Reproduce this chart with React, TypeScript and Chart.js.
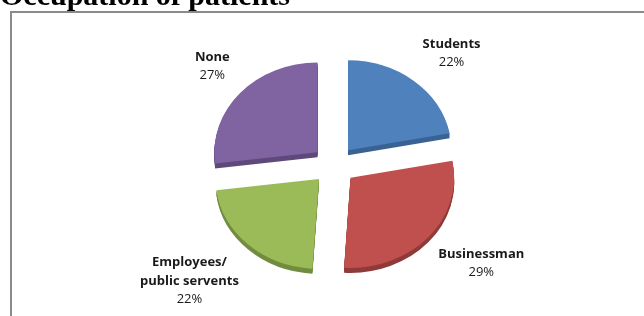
import React, { useEffect, useRef } from "react";
import { Chart, registerables } from "chart.js";

Chart.register(...registerables);

// ---- data ----
const categories = ["Students", "Businessman", "Employees/ public servents", "None"];
const labelLines = [["Students"], ["Businessman"], ["Employees/", "public servents"], ["None"]];
const values = [22, 29, 22, 27];
const percentLabels = ["22%", "29%", "22%", "27%"];
const colors = ["#4F81BD", "#C0504D", "#9BBB59", "#8064A2"];
const sideColors = ["#3A6393", "#8F3B39", "#728C40", "#5E4A7A"];
const chartTitle = "Occupation of patients";

const SQUASH = 0.87;
const DEPTH = 5;
const LABEL_GAP = 14;
const LINE_H = 18.5;

function squash(ctx: CanvasRenderingContext2D, cx: number, cy: number) {
  ctx.translate(cx, cy);
  ctx.scale(1, SQUASH);
  ctx.translate(-cx, -cy);
}

const framePlugin = {
  id: "frame",
  beforeDraw(chart: any) {
    const ctx = chart.ctx as CanvasRenderingContext2D;
    ctx.save();
    ctx.fillStyle = "#ffffff";
    ctx.fillRect(0, 0, chart.width, chart.height);
    ctx.fillStyle = "#8a8a8a";
    ctx.fillRect(10, 11, 2, chart.height);
    ctx.fillRect(10, 11, chart.width, 2);
    ctx.fillStyle = "#000000";
    ctx.font = "bold 30px 'Liberation Serif', 'Times New Roman', serif";
    ctx.textAlign = "left";
    ctx.textBaseline = "alphabetic";
    ctx.fillText(chartTitle, 0, 5);
    ctx.restore();
  },
};

const pie3dPlugin = {
  id: "pie3d",
  beforeDatasetsDraw(chart: any) {
    const ctx = chart.ctx as CanvasRenderingContext2D;
    const meta = chart.getDatasetMeta(0);
    const cx = meta.data[0].x;
    const cy = meta.data[0].y;
    for (let d = DEPTH; d >= 1; d--) {
      meta.data.forEach((arc: any, i: number) => {
        ctx.save();
        ctx.translate(0, d);
        squash(ctx, cx, cy);
        const saved = arc.options;
        arc.options = Object.assign({}, saved, { backgroundColor: sideColors[i] });
        arc.draw(ctx);
        arc.options = saved;
        ctx.restore();
      });
    }
    ctx.save();
    squash(ctx, cx, cy);
  },
  afterDatasetsDraw(chart: any) {
    const ctx = chart.ctx as CanvasRenderingContext2D;
    ctx.restore();
    const meta = chart.getDatasetMeta(0);
    meta.data.forEach((arc: any, i: number) => {
      const h = (arc.startAngle + arc.endAngle) / 2;
      const eff = (arc.options.offset || 0) / 4;
      const R = arc.outerRadius + eff + LABEL_GAP;
      const ax = arc.x + Math.cos(h) * R;
      const ay = arc.y + Math.sin(h) * R * SQUASH;
      const lines = [...labelLines[i], percentLabels[i]];
      const fonts = lines.map((_, k) =>
        k < lines.length - 1 ? "bold 13px 'Open Sans', sans-serif" : "13px 'Open Sans', sans-serif"
      );
      let w = 0;
      lines.forEach((t, k) => {
        ctx.font = fonts[k];
        w = Math.max(w, ctx.measureText(t).width);
      });
      const hgt = lines.length * LINE_H;
      const left = Math.cos(h) >= 0 ? ax : ax - w;
      const top = Math.sin(h) < 0 ? ay - hgt : ay;
      ctx.save();
      ctx.fillStyle = "#1a1a1a";
      ctx.textAlign = "center";
      ctx.textBaseline = "middle";
      lines.forEach((t, k) => {
        ctx.font = fonts[k];
        ctx.fillText(t, left + w / 2, top + LINE_H / 2 + k * LINE_H);
      });
      ctx.restore();
    });
  },
};

export default function App() {
  const ref = useRef<HTMLCanvasElement | null>(null);
  useEffect(() => {
    if (!ref.current) return;
    const chart = new Chart(ref.current, {
      type: "pie",
      data: {
        labels: categories,
        datasets: [
          {
            data: values,
            backgroundColor: colors,
            borderWidth: 0,
            offset: 88,
            clip: false as any,
          } as any,
        ],
      },
      options: {
        animation: false,
        responsive: false,
        radius: 103,
        layout: { padding: { left: 24, right: 0, top: 14, bottom: 0 } },
        plugins: {
          legend: { display: false },
          tooltip: { enabled: false },
          title: { display: false },
        },
      } as any,
      plugins: [framePlugin, pie3dPlugin],
    });
    return () => chart.destroy();
  }, []);
  return (
    <div style={{ position: "absolute", left: 0, top: 0, width: 644, height: 316, background: "#fff" }}>
      <canvas ref={ref} width={644} height={316} style={{ display: "block" }} />
    </div>
  );
}
